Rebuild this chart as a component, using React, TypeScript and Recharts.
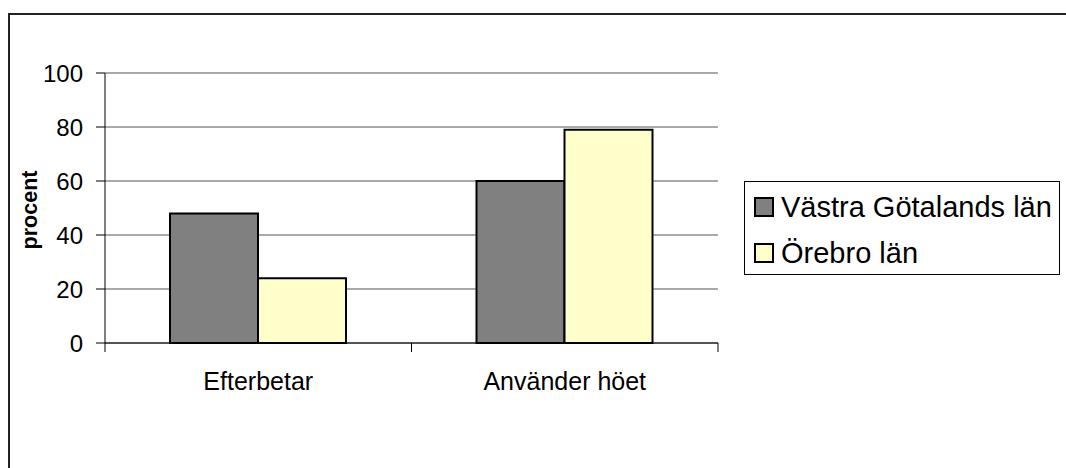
import { BarChart, Bar, XAxis, YAxis, CartesianGrid, Legend } from 'recharts'

const categories = ['Efterbetar', 'Använder höet']
const vastraGotaland = [48, 60]
const orebro = [24, 79]
const seriesNames = ['Västra Götalands län', 'Örebro län']
const yTicks = [0, 20, 40, 60, 80, 100]

const data = categories.map((category, i) => ({
  category,
  vg: vastraGotaland[i],
  ob: orebro[i],
}))

const W = 1066
const H = 468
const LEGEND_W = 316
const PLOT_TOP = 73
const PLOT_BOTTOM = 343
const PLOT_RIGHT = 718
// legend width gets added to the right offset by recharts, so take it off the margin
const margin = { top: PLOT_TOP, right: W - PLOT_RIGHT - LEGEND_W, bottom: 65, left: 0 }
const Y_AXIS_W = 105
const BAND = (PLOT_RIGHT - Y_AXIS_W) / categories.length
const font = '"Liberation Sans", Arial, sans-serif'

function CategoryTick(props: any) {
  const { x, y, payload } = props
  const half = BAND / 2
  return (
    <g>
      <line x1={x - half} x2={x - half} y1={y} y2={y + 9} stroke="#000" />
      <line x1={x + half} x2={x + half} y1={y} y2={y + 9} stroke="#000" />
      <text x={x} y={y + 47} textAnchor="middle" fontSize={25} fill="#000" fontFamily={font}>
        {payload.value}
      </text>
    </g>
  )
}

function AxisTitle() {
  const cx = 30
  const cy = (PLOT_TOP + PLOT_BOTTOM) / 2 + 2
  return (
    <text
      x={cx} y={cy} transform={`rotate(-90, ${cx}, ${cy})`} textAnchor="middle"
      dominantBaseline="central" style={{ fontSize: 21.5, fontWeight: 'bold', fontFamily: font }} fill="#000"
    >
      procent
    </text>
  )
}

function BoxLegend({ payload }: any) {
  return (
    <div
      style={{
        boxSizing: 'border-box', width: '100%', height: '100%', border: '1px solid #000',
        background: '#fff', padding: '2px 0 0 9px', fontFamily: font, fontSize: 29, color: '#000',
      }}
    >
      {(payload || []).map((p: any) => (
        <div key={p.value} style={{ display: 'flex', alignItems: 'center', height: 46 }}>
          <span
            style={{
              boxSizing: 'border-box', width: 20, height: 20, background: p.color,
              border: '2px solid #000', marginRight: 7, flex: 'none',
            }}
          />
          <span style={{ whiteSpace: 'nowrap', lineHeight: '46px' }}>{p.value}</span>
        </div>
      ))}
    </div>
  )
}

export default function App() {
  return (
    <div style={{ position: 'absolute', left: 0, top: 0, width: W, height: H, overflow: 'hidden', background: '#fff' }}>
      <div
        style={{
          position: 'absolute', left: 8, top: 13, width: W, height: H,
          borderLeft: '2px solid #222', borderTop: '2px solid #222',
        }}
      />
      <div style={{ position: 'absolute', left: 0, top: 0 }}>
        <BarChart width={W} height={H} data={data} margin={margin} barSize={88} barGap={0}>
          <CartesianGrid vertical={false} stroke="#555" />
          <XAxis
            dataKey="category" height={60} tickSize={0} tickMargin={0} tickLine={false}
            axisLine={{ stroke: '#000' }} tick={<CategoryTick />} interval={0}
          />
          <XAxis xAxisId="top" orientation="top" dataKey="category" height={0} tick={false} tickLine={false} axisLine={{ stroke: '#999', strokeWidth: 2 }} />
          <YAxis
            width={Y_AXIS_W} domain={[0, 100]} ticks={yTicks} interval={0}
            tickSize={9} tickMargin={13} tickLine={{ stroke: '#000' }} axisLine={{ stroke: '#000' }}
            tick={{ fontSize: 24, fill: '#000', fontFamily: font }}
            label={<AxisTitle />}
          />
          <YAxis yAxisId="right" orientation="right" width={0} domain={[0, 100]} tick={false} tickLine={false} axisLine={{ stroke: '#999', strokeWidth: 2 }} />
          <Legend
            layout="horizontal" verticalAlign="middle" align="right" content={<BoxLegend />}
            wrapperStyle={{ left: 744, top: 181, width: LEGEND_W, height: 94 }}
          />
          <Bar dataKey="vg" name={seriesNames[0]} fill="#808080" stroke="#000" strokeWidth={2} isAnimationActive={false} />
          <Bar dataKey="ob" name={seriesNames[1]} fill="#FFFFCC" stroke="#000" strokeWidth={2} isAnimationActive={false} />
        </BarChart>
      </div>
    </div>
  )
}
